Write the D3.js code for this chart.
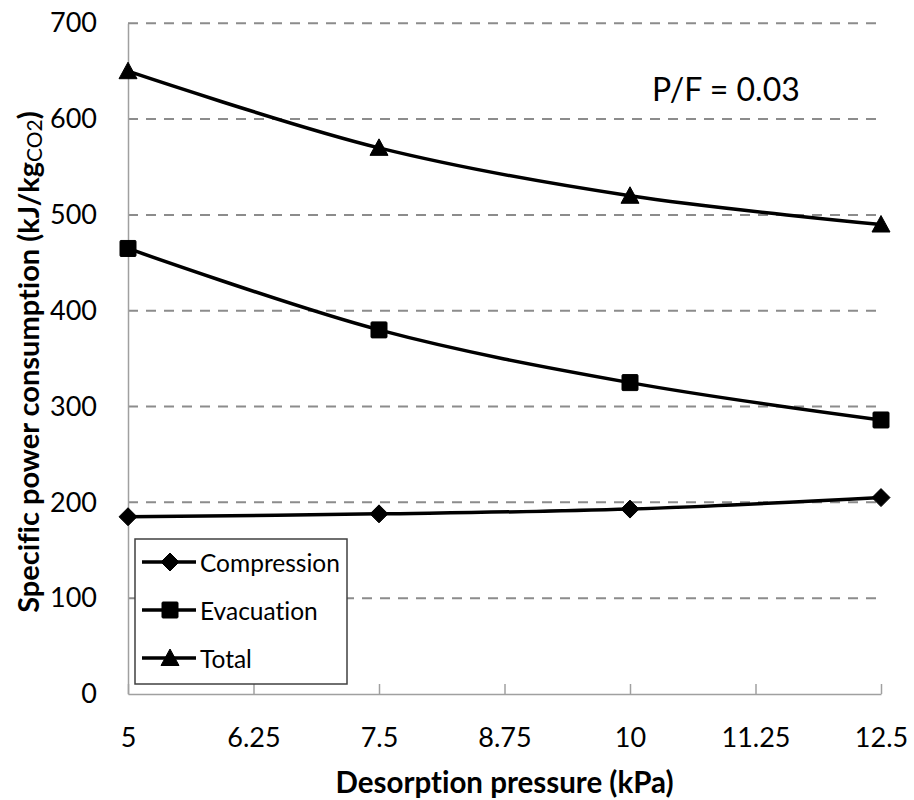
<!DOCTYPE html>
<html>
<head>
<meta charset="utf-8">
<script src="https://cdn.jsdelivr.net/npm/d3@7"></script>
<style>
  html, body { margin: 0; padding: 0; background: #fff; }
  svg { display: block; font-family: Lato, "Open Sans", sans-serif; }
  svg text { font-variant-ligatures: none; font-feature-settings: "liga" 0, "clig" 0, "dlig" 0; }
</style>
</head>
<body>
<svg id="chart" width="914" height="800"></svg>
<script>
// Desorption pressure (kPa)
const pressures = [5, 7.5, 10, 12.5];
// Specific power consumption (kJ/kg CO2)
const compression = [185, 188, 193, 205];
const evacuation  = [465, 380, 325, 286];
const total       = [650, 570, 520, 490];

const seriesNames = ["Compression", "Evacuation", "Total"];
const xTicks = [5, 6.25, 7.5, 8.75, 10, 11.25, 12.5];
const yTicks = [0, 100, 200, 300, 400, 500, 600, 700];
const annotation = "P/F = 0.03";

const series = [
  { name: seriesNames[0], values: compression, shape: "diamond" },
  { name: seriesNames[1], values: evacuation,  shape: "square" },
  { name: seriesNames[2], values: total,       shape: "triangle" }
];

const svg = d3.select("#chart");
const x = d3.scaleLinear().domain([5, 12.5]).range([128, 881]);
const y = d3.scaleLinear().domain([0, 700]).range([694, 23.3]);

const gridColor = "#8c8c8c";
const axisColor = "#a0a0a0";

// Horizontal dashed gridlines
svg.append("g")
  .selectAll("line")
  .data(yTicks.filter(d => d > 0))
  .join("line")
  .attr("x1", x(5)).attr("x2", x(12.5) - 5)
  .attr("y1", d => y(d)).attr("y2", d => y(d))
  .attr("stroke", gridColor)
  .attr("stroke-width", 2)
  .attr("stroke-dasharray", "10,8");

// Y axis (line only, labels on the left)
const yAxis = d3.axisLeft(y).tickValues(yTicks).tickSize(0).tickPadding(31).tickFormat(d3.format("d"));
const gy = svg.append("g").attr("transform", `translate(${x(5)},0)`).call(yAxis);
gy.select(".domain").attr("stroke", axisColor).attr("stroke-width", 1.5);
gy.selectAll("text").attr("font-size", 27).attr("fill", "#000").attr("font-family", "Lato, sans-serif");

// X axis with inward ticks
const xAxis = d3.axisBottom(x).tickValues(xTicks).tickSize(-10).tickSizeOuter(0)
  .tickPadding(0).tickFormat(d => String(d));
const gx = svg.append("g").attr("transform", `translate(0,${y(0)})`).call(xAxis);
gx.select(".domain").attr("stroke", axisColor).attr("stroke-width", 1.5);
gx.selectAll(".tick line").attr("stroke", axisColor).attr("stroke-width", 1.5);
gx.selectAll("text")
  .attr("font-size", 27).attr("fill", "#000").attr("font-family", "Lato, sans-serif")
  .attr("dy", null).attr("y", 42).attr("dominant-baseline", "central");

// Marker shapes
function markerPath(shape) {
  if (shape === "diamond") return "M0,-9 L9,0 L0,9 L-9,0 Z";
  if (shape === "square") return "M-7,-8 L7,-8 Q8,-8 8,-7 L8,7 Q8,8 7,8 L-7,8 Q-8,8 -8,7 L-8,-7 Q-8,-8 -7,-8 Z";
  return "M0,-9 L9,7.5 L-9,7.5 Z";
}

const line = d3.line()
  .x((d, i) => x(pressures[i]))
  .y(d => y(d))
  .curve(d3.curveCatmullRom.alpha(0.5));

const gs = svg.append("g").selectAll("g").data(series).join("g");
gs.append("path")
  .attr("d", d => line(d.values))
  .attr("fill", "none")
  .attr("stroke", "#000")
  .attr("stroke-width", 3.5);
gs.each(function(s) {
  d3.select(this).selectAll("path.mk")
    .data(s.values)
    .join("path")
    .attr("class", "mk")
    .attr("d", markerPath(s.shape))
    .attr("transform", (d, i) => `translate(${x(pressures[i])},${y(d)})`)
    .attr("fill", "#000")
    .attr("stroke", "#000")
    .attr("stroke-width", 1)
    .attr("stroke-linejoin", "round");
});

// Legend
const legend = svg.append("g");
legend.append("rect")
  .attr("x", 135).attr("y", 539).attr("width", 212).attr("height", 145)
  .attr("fill", "#fff").attr("stroke", "#404040").attr("stroke-width", 1.5);
const rows = legend.selectAll("g.row").data(series).join("g")
  .attr("class", "row")
  .attr("transform", (d, i) => `translate(0,${562 + i * 48})`);
rows.append("line").attr("x1", 142).attr("x2", 196).attr("y1", 0).attr("y2", 0)
  .attr("stroke", "#000").attr("stroke-width", 3.5);
rows.append("path").attr("d", d => markerPath(d.shape))
  .attr("transform", "translate(170,0)").attr("fill", "#000")
  .attr("stroke", "#000").attr("stroke-width", 1).attr("stroke-linejoin", "round");
rows.append("text").attr("x", 200).attr("y", 0)
  .attr("dominant-baseline", "central")
  .attr("font-size", 24.5).attr("fill", "#000")
  .text(d => d.name);

// Annotation
svg.append("text")
  .attr("x", 652).attr("y", 88)
  .attr("dominant-baseline", "central")
  .attr("font-size", 32).attr("fill", "#000")
  .text(annotation);

// Axis titles
svg.append("text")
  .attr("x", (x(5) + x(12.5)) / 2).attr("y", 781)
  .attr("text-anchor", "middle").attr("dominant-baseline", "central")
  .attr("font-size", 29.5).attr("font-weight", "bold").attr("fill", "#000")
  .text("Desorption pressure (kPa)");

const yTitle = svg.append("text")
  .attr("transform", "translate(27,362) rotate(-90)")
  .attr("text-anchor", "middle").attr("dominant-baseline", "central")
  .attr("font-size", 29).attr("font-weight", "bold").attr("fill", "#000");
yTitle.append("tspan").text("Specific power consumption (kJ/kg");
yTitle.append("tspan").attr("font-size", 21).attr("font-weight", "normal").attr("dy", 6).text("CO2");
yTitle.append("tspan").attr("dy", -6).text(")");
</script>
</body>
</html>
